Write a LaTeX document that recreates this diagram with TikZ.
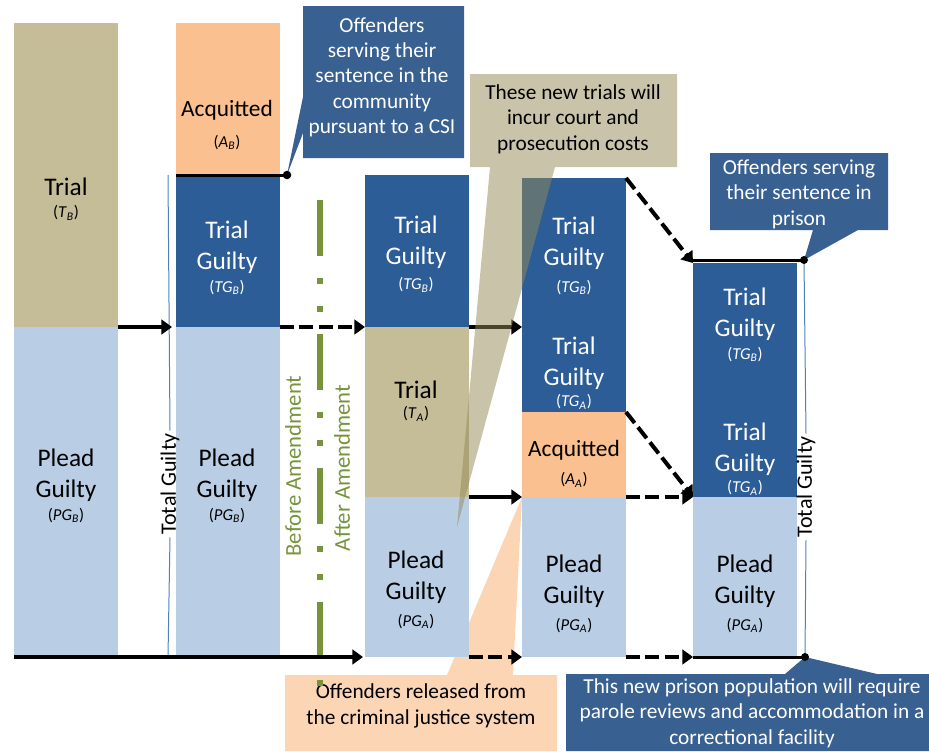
\documentclass[tikz,border=0pt]{standalone}
\usepackage{fontspec}
\setmainfont{Carlito}
\usetikzlibrary{arrows.meta,positioning}
\definecolor{tanc}{RGB}{196,189,151}
\definecolor{paleblue}{RGB}{185,205,229}
\definecolor{deepblue}{RGB}{44,93,151}
\definecolor{peach}{RGB}{250,192,144}
\definecolor{olivegreen}{RGB}{119,147,60}
\definecolor{noteblue}{RGB}{56,96,145}
\definecolor{notetan}{RGB}{148,138,84}
\definecolor{noteorange}{RGB}{247,150,70}
\definecolor{guideblue}{RGB}{79,129,189}
\newcommand\varlbl[2]{{\fontsize{12.5}{15}\selectfont(\textit{#1}\textsubscript{\textit{#2}})}}

\begin{document}
\begin{tikzpicture}[x=0.75pt,y=-0.75pt,
  bar/.style={anchor=north west, minimum width=78pt, inner sep=0pt, outer sep=0pt},
  txt/.style={align=center, inner sep=0pt, font=\fontsize{19}{23}\selectfont},
  wtxt/.style={txt, text=white},
  notetxt/.style={align=center, inner sep=0pt, font=\fontsize{16}{19}\selectfont},
  sidetxt/.style={rotate=90, inner sep=2pt, font=\fontsize{16.5}{19}\selectfont},
  arr/.style={line width=3pt, -{Triangle[length=8pt,width=11pt]}},
  darr/.style={arr, dash pattern=on 10.5pt off 4pt},
  guide/.style={guideblue, line width=0.75pt}]
\useasboundingbox (0,0) rectangle (929,751);

% callout behind the bars
\fill[noteorange, fill opacity=0.4] (285,675) -- (447,675) -- (522,497) -- (513,675)
  -- (557,675) -- (557,751) -- (285,751) -- cycle;
\node[notetxt] (released) at (421,706) {Offenders released from\\the criminal justice system};

% bars before amendment
\node[bar, fill=tanc, minimum height=228pt] (c1t) at (14,23) {};
\node[bar, fill=paleblue, minimum height=247.5pt, below=0pt of c1t] (c1pg) {};
\node[bar, fill=peach, minimum height=114pt] (c2a) at (176,23) {};
\node[bar, fill=deepblue, minimum height=114pt, below=0pt of c2a] (c2tg) {};
\node[bar, fill=paleblue, minimum height=247.5pt, below=0pt of c2tg] (c2pg) {};

% bars after amendment
\node[bar, fill=deepblue, minimum height=114pt] (c3tg) at (365,175) {};
\node[bar, fill=tanc, minimum height=127.5pt, below=0pt of c3tg] (c3t) {};
\node[bar, fill=paleblue, minimum height=120pt, below=0pt of c3t] (c3pg) {};
\node[bar, fill=deepblue, minimum height=111.75pt] (c4tgb) at (522,178) {};
\node[bar, fill=deepblue, minimum height=63.75pt, below=0pt of c4tgb] (c4tga) {};
\node[bar, fill=peach, minimum height=63.75pt, below=0pt of c4tga] (c4a) {};
\node[bar, fill=paleblue, minimum height=120pt, below=0pt of c4a] (c4pg) {};
\node[bar, fill=deepblue, minimum height=112.5pt] (c5tgb) at (693,263) {};
\node[bar, fill=deepblue, minimum height=63pt, below=0pt of c5tgb] (c5tga) {};
\node[bar, fill=paleblue, minimum height=120pt, below=0pt of c5tga] (c5pg) {};

% bar texts
\node[txt] (c1t-l) at (66,199) {Trial\\[-6pt]\varlbl{T}{B}};
\node[txt] (c1pg-l) at (66,486) {Plead\\Guilty\\[-6pt]\varlbl{PG}{B}};
\node[txt, font=\fontsize{17.5}{23}\selectfont] (c2a-l) at (227,125) {Acquitted\\\varlbl{A}{B}};
\node[wtxt] (c2tg-l) at (227,258) {Trial\\Guilty\\[-6pt]\varlbl{TG}{B}};
\node[txt] (c2pg-l) at (227,486) {Plead\\Guilty\\[-6pt]\varlbl{PG}{B}};
\node[wtxt] (c3tg-l) at (416,254) {Trial\\Guilty\\[-4pt]\varlbl{TG}{B}};
\node[txt] (c3t-l) at (416,401) {Trial\\[-8pt]\varlbl{T}{A}};
\node[txt] (c3pg-l) at (416,590) {Plead\\Guilty\\[-3pt]\varlbl{PG}{A}};
\node[wtxt] (c4tgb-l) at (574,256) {Trial\\Guilty\\[-3pt]\varlbl{TG}{B}};
\node[wtxt] (c4tga-l) at (574,373) {Trial\\Guilty\\[-7pt]\varlbl{TG}{A}};
\node[txt, font=\fontsize{17.5}{23}\selectfont] (c4a-l) at (574,464) {Acquitted\\[-2pt]\varlbl{A}{A}};
\node[txt] (c4pg-l) at (574,594) {Plead\\Guilty\\[-3pt]\varlbl{PG}{A}};
\node[wtxt] (c5tgb-l) at (745,325) {Trial\\Guilty\\[-6pt]\varlbl{TG}{B}};
\node[wtxt] (c5tga-l) at (745,459) {Trial\\Guilty\\[-7pt]\varlbl{TG}{A}};
\node[txt] (c5pg-l) at (745,594) {Plead\\Guilty\\[-3pt]\varlbl{PG}{A}};

% total guilty guides
\coordinate (g1top) at (168,175);
\coordinate (g1bot) at (168,657);
\node[sidetxt] (tot1) at (170,484) {Total Guilty};
\draw[guide] (g1top) -- (tot1.east);
\draw[guide] (tot1.west) -- (g1bot);
\coordinate (pdot) at (804,260);
\coordinate (bdot) at (805,657);
\node[sidetxt] (tot2) at (806,487) {Total Guilty};
\draw[guide] (pdot) -- (tot2.east);
\draw[guide] (tot2.west) -- (bdot);

% amendment divider
\coordinate (gtop) at (320,200);
\coordinate (gbot) at (320,687);
\draw[olivegreen, line width=4.5pt,
  dash pattern=on 42pt off 16.5pt on 4.5pt off 16.5pt on 4.5pt off 16.5pt] (gtop) -- (gbot);
\node[rotate=90, text=olivegreen, font=\fontsize{17}{20}\selectfont] (before) at (293,466) {Before Amendment};
\node[rotate=90, text=olivegreen, font=\fontsize{17}{20}\selectfont] (after) at (342,468) {After Amendment};

% flows
\draw[arr, shorten >=3pt] (c1t.south east) -- (c2tg.south west);
\draw[arr, shorten >=1.5pt] (c1pg.south west) -- (c3pg.south west);
\draw[darr] (c2tg.south east) -- (c3tg.south west);
\draw[arr] (c3tg.south east) -- (c4tgb.south west);
\draw[arr] (c3t.south east) -- (c4a.south west);
\draw[darr] (c3pg.south east) -- (c4pg.south west);
\draw[darr] (c4tgb.north east) -- (c5tgb.north west);
\draw[darr] (c4tga.south east) -- (c5tga.south west);
\draw[darr] (c4a.south east) -- (c5tga.south west);
\draw[darr] (c4pg.south east) -- (c5pg.south west);

% blue callouts
\coordinate (csidot) at (287,175);
\fill[noteblue] (303,6) -- (464,6) -- (464,158) -- (303,158) -- (303,133) -- (csidot)
  -- (303,97) -- cycle;
\node[notetxt, text=white] (csi) at (382,77) {Offenders\\serving their\\sentence in the\\community\\pursuant to a CSI};
\draw[line width=2.25pt] (c2tg.north west) -- (csidot);
\fill (csidot) circle (3.2pt);

\fill[noteblue] (710,153) -- (888,153) -- (888,230) -- (858,230) -- (pdot) -- (813,230)
  -- (710,230) -- cycle;
\node[notetxt, text=white] (prison) at (799,194) {Offenders serving\\their sentence in\\prison};
\draw[line width=2.25pt] (c5tgb.north west |- pdot) -- (pdot);
\fill (pdot) circle (3pt);

\fill[noteblue] (566,674) -- (785,674) -- (bdot) -- (877,674) -- (929,674) -- (929,751)
  -- (566,751) -- cycle;
\node[notetxt, text=white] (parole) at (752,713) {This new prison population will require\\parole reviews and accommodation in a\\correctional facility};
\draw[line width=2.25pt] (c5pg.south west) -- (bdot);
\fill (bdot) circle (3pt);

% cost callout on top
\fill[notetan, fill opacity=0.5] (470,74) -- (677,74) -- (677,167) -- (555,167) -- (457,527)
  -- (490,167) -- (470,167) -- cycle;
\node[notetxt] (costs) at (573,119) {These new trials will\\incur court and\\prosecution costs};
\end{tikzpicture}
\end{document}
